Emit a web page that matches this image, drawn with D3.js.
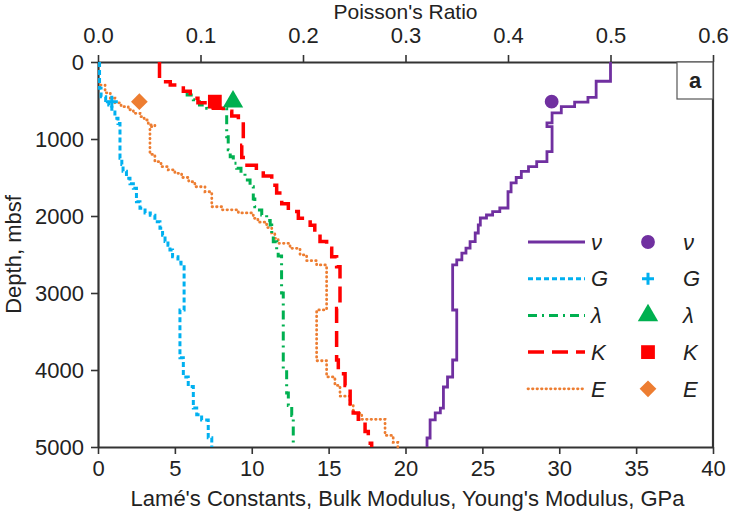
<!DOCTYPE html>
<html>
<head>
<meta charset="utf-8">
<script src="https://cdn.jsdelivr.net/npm/d3@7"></script>
<style>
  body { margin: 0; background: #fff; }
  text { font-family: 'Liberation Sans Narrow', 'Liberation Sans', Arial, sans-serif; fill: #222; }
</style>
</head>
<body>
<div id="chart"></div>
<script>
// layer tops [depth m, value] - value holds down to the next layer
var nuSteps = [[0,0.500],[250,0.486],[460,0.478],[520,0.465],[580,0.452],[660,0.443],[790,0.438],[840,0.443],
  [1165,0.438],[1295,0.428],[1360,0.420],[1420,0.413],[1500,0.408],[1570,0.403],[1685,0.400],[1896,0.392],
  [1944,0.385],[1987,0.379],[2026,0.373],[2117,0.371],[2221,0.368],[2334,0.363],[2416,0.359],[2481,0.355],
  [2571,0.350],[2636,0.346],[3221,0.350],[3870,0.346],[4091,0.341],[4221,0.337],[4494,0.334],[4558,0.329],
  [4649,0.324],[4883,0.321]];
var gSteps = [[0,0.1],[340,0.2],[450,0.5],[500,0.7],[560,0.9],[650,1.1],[730,1.3],[800,1.43],[1250,1.55],
  [1330,1.63],[1420,1.85],[1510,2.08],[1580,2.3],[1640,2.5],[1815,2.73],[1900,3.06],[1960,3.4],[1990,3.7],
  [2075,4.03],[2160,4.2],[2250,4.36],[2330,4.55],[2380,4.68],[2440,4.85],[2530,5.2],[2600,5.4],[2660,5.6],
  [3220,5.33],[3840,5.55],[4090,5.87],[4215,6.2],[4495,6.42],[4580,6.74],[4650,7.17],[4880,7.4]];
var lambdaSteps = [[385,5.8],[430,6.2],[490,6.6],[560,7.07],[600,8.37],[970,8.47],[1140,8.6],[1230,8.8],
  [1316,9.02],[1380,9.3],[1446,9.56],[1532,9.89],[1620,10.1],[1780,10.2],[1880,10.5],[1922,10.65],[1987,10.97],
  [2060,11.2],[2117,11.3],[2247,11.4],[2334,11.62],[2440,11.72],[2520,11.94],[3000,12.05],[4000,12.27],
  [4300,12.38],[4460,12.6],[4590,12.7]];
var kSteps = [[0,4.0],[255,4.7],[300,5.55],[380,6.0],[470,6.5],[530,6.96],[580,7.5],[600,8.15],[640,8.7],
  [700,9.13],[760,9.45],[1080,9.35],[1240,9.56],[1340,10.3],[1410,10.75],[1480,11.3],[1600,11.62],[1700,11.95],
  [1840,12.38],[1940,13.03],[2030,13.8],[2120,14.1],[2230,14.44],[2330,14.87],[2420,15.2],[2530,15.52],
  [2660,15.74],[3200,15.52],[3870,15.63],[4050,16.07],[4200,16.4],[4480,16.6],[4560,16.93],[4640,17.37],
  [4800,17.58],[4950,17.8]];
var eSteps = [[255,0.1],[300,0.46],[400,0.8],[470,1.1],[530,1.5],[580,1.97],[620,2.3],[666,2.73],[710,3.0],
  [753,3.27],[818,3.7],[840,3.38],[1200,3.7],[1295,4.1],[1360,4.57],[1400,5.0],[1446,5.44],[1500,5.9],
  [1555,6.3],[1620,6.96],[1685,7.4],[1880,8.04],[1920,9.13],[1960,10.1],[2030,10.4],[2080,10.97],[2150,11.3],
  [2220,11.5],[2290,11.72],[2355,12.49],[2420,13.14],[2506,13.57],[2580,14.22],[2636,14.87],[3220,14.22],
  [3880,14.87],[4090,15.41],[4200,15.74],[4340,16.39],[4460,16.6],[4560,17.15],[4640,18.67],[4850,19.2],
  [4940,19.5]];

// lab measurements at ~515 mbsf
var labDepth = 515;
var labNu = 0.4426, labG = 0.9, labLambda = 8.78, labK = 7.6, labE = 2.69;

var gpaTicks = [0,5,10,15,20,25,30,35,40];
var nuTicks = [0,0.1,0.2,0.3,0.4,0.5,0.6];
var depthTicks = [0,1000,2000,3000,4000,5000];

var series = [
  {name:"E", steps:eSteps, color:"#ed7d31", dash:"0.5,4", w:2.8, cap:"round", lab:labE, sym:"diamond", msize:140},
  {name:"G", steps:gSteps, color:"#00b0f0", dash:"5,3", w:3, cap:"butt", lab:labG, sym:"plus", msize:0},
  {name:"\u03bb", steps:lambdaSteps, color:"#00b050", dash:"9,5,2,5", w:3, cap:"butt", lab:labLambda, sym:d3.symbolTriangle, msize:180},
  {name:"K", steps:kSteps, color:"#ff0000", dash:"16,8", w:3.5, cap:"butt", lab:labK, sym:d3.symbolSquare, msize:190},
  {name:"\u03bd", steps:nuSteps, color:"#7030a0", dash:null, w:2.8, cap:"butt", lab:labNu, sym:d3.symbolCircle, msize:150, poisson:true}
];
var legendOrder = ["\u03bd","G","\u03bb","K","E"];

var W = 732, H = 516;
var margin = {top: 62, right: 19, bottom: 69, left: 98},
    width = W - margin.left - margin.right,
    height = H - margin.top - margin.bottom;

var svg = d3.select("#chart").append("svg")
    .attr("width", W).attr("height", H)
  .append("g")
    .attr("transform", "translate(" + margin.left + "," + margin.top + ")");

var x = d3.scaleLinear().domain([0,40]).range([0,width]);
var xp = d3.scaleLinear().domain([0,0.6]).range([0,width]);
var y = d3.scaleLinear().domain([0,5000]).range([0,height]);

var fs = "22px";

var xAxis = svg.append("g").attr("class","axis")
  .attr("transform","translate(0," + height + ")")
  .call(d3.axisBottom(x).tickValues(gpaTicks).tickSize(7).tickSizeOuter(0).tickPadding(6));
var topAxis = svg.append("g").attr("class","axis")
  .call(d3.axisTop(xp).tickValues(nuTicks).tickFormat(d3.format(".1f")).tickSize(7).tickSizeOuter(0).tickPadding(12));
var yAxis = svg.append("g").attr("class","axis")
  .call(d3.axisLeft(y).tickValues(depthTicks).tickFormat(d3.format("d")).tickSize(7).tickSizeOuter(0).tickPadding(7));

svg.selectAll(".axis .domain").attr("stroke","#333").attr("stroke-width",2.2);
svg.selectAll(".axis .tick line").attr("stroke","#333").attr("stroke-width",1.6);
svg.selectAll(".axis text").style("font-size",fs).attr("fill","#222");

svg.append("line")
  .attr("x1",width).attr("x2",width).attr("y1",0).attr("y2",height)
  .attr("stroke","#333").attr("stroke-width",2.2);

// axis titles
svg.append("text").attr("x",width/2).attr("y",-43).attr("text-anchor","middle")
  .style("font-size","21px").text("Poisson's Ratio");
svg.append("text").attr("x",width/2+2).attr("y",height+59).attr("text-anchor","middle")
  .style("font-size",fs).text("Lamé's Constants, Bulk Modulus, Young's Modulus, GPa");
svg.append("text").attr("transform","translate(" + (-77) + "," + (height/2) + ") rotate(-90)")
  .attr("text-anchor","middle").style("font-size",fs).text("Depth, mbsf");

// step curves
series.forEach(function(s) {
  var sx = s.poisson ? xp : x;
  var pts = s.steps.concat([[5000, s.steps[s.steps.length-1][1]]]);
  var line = d3.line()
    .x(function(d) { return sx(d[1]); })
    .y(function(d) { return y(d[0]); })
    .curve(d3.curveStepBefore);
  svg.append("path")
    .datum(pts)
    .attr("fill","none")
    .attr("stroke", s.color)
    .attr("stroke-width", s.w)
    .attr("stroke-linecap", s.cap)
    .attr("stroke-dasharray", s.dash)
    .attr("d", line);
});

function drawMarker(g, s, cx, cy) {
  if (s.sym === "plus") {
    g.append("path").attr("d","M" + (cx-6) + "," + cy + "H" + (cx+6) + "M" + cx + "," + (cy-6) + "V" + (cy+6))
      .attr("stroke", s.color).attr("stroke-width",3);
  } else if (s.sym === "diamond") {
    g.append("path")
      .attr("transform","translate(" + cx + "," + cy + ") rotate(45)")
      .attr("d", d3.symbol().type(d3.symbolSquare).size(s.msize)())
      .attr("fill", s.color);
  } else {
    g.append("path")
      .attr("transform","translate(" + cx + "," + cy + ")")
      .attr("d", d3.symbol().type(s.sym).size(s.msize)())
      .attr("fill", s.color);
  }
}

// lab markers
series.forEach(function(s) {
  var sx = s.poisson ? xp : x;
  drawMarker(svg, s, sx(s.lab), y(labDepth));
});

// legend
var leg = svg.append("g").attr("transform","translate(430,180)");
legendOrder.forEach(function(n, i) {
  var s = series.filter(function(d) { return d.name === n; })[0];
  var ry = i * 36.7;
  leg.append("line").attr("x1",0).attr("x2",57).attr("y1",ry).attr("y2",ry)
    .attr("stroke", s.color).attr("stroke-width", s.w)
    .attr("stroke-linecap", s.cap).attr("stroke-dasharray", s.dash);
  leg.append("text").attr("x",63).attr("y",ry).attr("dy","0.35em")
    .style("font-size","22px").style("font-style","italic").style("font-family","'Liberation Sans', Arial, sans-serif")
    .text(n);
  drawMarker(leg, s, 120, ry);
  leg.append("text").attr("x",155).attr("y",ry).attr("dy","0.35em")
    .style("font-size","22px").style("font-style","italic").style("font-family","'Liberation Sans', Arial, sans-serif")
    .text(n);
});

// panel label
svg.append("rect").attr("x",width-36).attr("y",0).attr("width",36).attr("height",37)
  .attr("fill","#fff").attr("stroke","#555").attr("stroke-width",1.2);
svg.append("text").attr("x",width-18).attr("y",26).attr("text-anchor","middle")
  .style("font-size","22px").style("font-weight","bold").style("font-family","'Liberation Sans', Arial, sans-serif")
  .text("a");
</script>
</body>
</html>
